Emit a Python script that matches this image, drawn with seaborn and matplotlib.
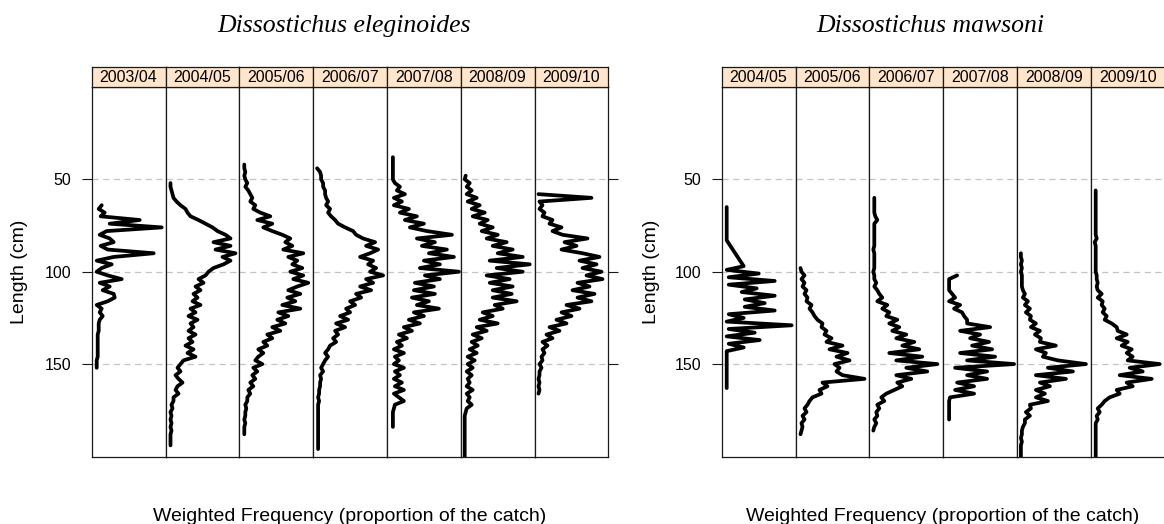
"""
Weighted length-frequency profiles of toothfish catches by season,
drawn as lattice-style strips (one column per season).
"""

import numpy as np
import pandas as pd
import matplotlib
matplotlib.use("Agg")
import matplotlib.pyplot as plt
import seaborn as sns

# ---------------------------------------------------------------------------
# Data: weighted frequency (per mille of the catch) in 2-cm length bins.
# None = bin not recorded (the line joins across it).
# ---------------------------------------------------------------------------
seasons_ele = ["2003/04", "2004/05", "2005/06", "2006/07", "2007/08", "2008/09", "2009/10"]
seasons_maw = ["2004/05", "2005/06", "2006/07", "2007/08", "2008/09", "2009/10"]

# first length bin (cm) of each season
start_ele = [64, 52, 42, 44, 38, 48, 58]
start_maw = [65, 98, 60, 102, 90, 56]

ele_0304 = [6, 3, 9, 5, 44, 14, 66, 11, 4, 14, 18, 5, 12, 58, 18, 1, 16, 6, 1, 12,
            26, 4, 14, 7, 18, 19, 12, 1, 6, 4, 7, 4, 3, 3, 3, 2, 2, 2, 2, 2,
            2, 2, 1, 1, 1]
ele_0405 = [1, 1, 2, 3, 4, 7, 11, 16, 18, 21, 29, 36, 43, 48, 56, 61, 44, 61, 46, 66,
            53, 61, 54, 44, 39, 36, 29, 34, 26, 31, 24, 28, 23, 31, 21, 26, 19, 28, 21, 24,
            19, 26, 19, 23, 16, 24, 18, 26, 14, 11, 8, 11, 6, 9, 13, 8, 6, 9, 4, 4,
            2, 3, 1, 2, 1, 2, 1, 2, 1, 1, 1, 1]
ele_0506 = [1, 1, 2, 1, 2, 4, 2, 5, 7, 9, 7, 12, 10, 17, 27, 14, 29, 20, 29, 39,
            47, 42, 49, 40, 60, 45, 54, 49, 59, 47, 60, 50, 65, 54, 45, 57, 44, 52, 39, 57,
            35, 45, 34, 42, 29, 37, 24, 29, 20, 24, 15, 20, 15, 12, 19, 10, 14, 9, 12, 7,
            10, 5, 7, 4, 4, 2, 3, 2, 2, 1, 2, 1, 1, 1]
ele_0607 = [0, 3, 4, 4, 6, 6, 8, 8, 9, 11, 9, 13, 11, 14, 18, 21, 28, 36, 39, 46,
            58, 49, 61, 53, 43, 56, 51, 59, 53, 66, 49, 56, 43, 54, 39, 44, 33, 38, 29, 33,
            23, 31, 19, 28, 18, 21, 16, 19, 13, 11, 8, 11, 8, 6, 4, 6, 3, 4, 3, 3,
            2, 2, 1, 2, 1, 1, 1, 1, 1, 1, 1, 1, 1, 1, 1, 1, 1]
ele_0708 = [2, 2, 2, 2, 2, 2, 2, 4, 9, 6, 14, 3, 11, 3, 18, 9, 26, 14, 33, 19,
            36, 61, 26, 44, 31, 56, 38, 63, 33, 49, 29, 68, 34, 49, 24, 43, 23, 44, 21, 38,
            26, 48, 23, 33, 18, 29, 13, 21, 8, 16, 6, 11, 3, 13, 4, 8, 3, 13, 4, 9,
            3, 11, 4, 13, 3, 8, 13, 4, 3, 2, 2, 2, 2, 2]
ele_0809 = [1, 0, 5, 2, 7, 2, 12, 3, 15, 7, 20, 8, 23, 15, 28, 17, 33, 22, 42, 28,
            48, 33, 58, 25, 65, 32, 58, 22, 45, 25, 48, 28, 47, 28, 52, 30, 38, 18, 28, 15,
            33, 12, 22, 8, 17, 7, 13, 5, 12, 3, 10, 3, 8, 2, 7, 3, 5, 2, 8, 2,
            5, 3, 7, 2, 1, 0, 0, 0, 0, 0, 0, 0, 0, 0, 0, 0, 0, 0]
ele_0910 = [0, 53, 1, 4, 1, 6, 4, 14, 11, 23, 14, 24, 49, 26, 38, 23, 44, 61, 41, 58,
            44, 63, 48, 64, 39, 51, 34, 56, 39, 53, 28, 41, 23, 33, 18, 28, 11, 21, 8, 14,
            4, 9, 4, 6, 3, 4, 1, 3, 1, 1, 0, 1, 0, 1, 0]

maw_0405 = [1, None, None, None, None, None, None, None, None, 1,
            None, None, None, None, None, None, 18, 1, 33, 3,
            49, 3, 31, 16, 49, 19, 39, 19, 49, 3, 18, 1, 66, 3,
            29, 1, 34, 3, 18, 1, None, None, None, None, None,
            None, None, None, None, 1]
maw_0506 = [1, 2, 5, 2, 5, 3, 7, 5, 8, 7, 12, 10, 13, 15, 18, 23, 22, 27, 25, 32,
            27, 43, 30, 48, 37, 50, 35, 40, 37, 43, 65, 23, 28, 20, 22, 13, 10, 8, 5, 7,
            3, 5, 2, 3, 2, 1]
maw_0607 = [1, 1, 1, 1, 1, 2, 4, 1, 1, 1, 1, 1, 1, 1, 0, 1, 1, 1, 1, 1,
            0, 1, 1, 3, 1, 4, 6, 9, 4, 14, 9, 16, 13, 24, 16, 26, 19, 33, 23, 41,
            29, 46, 16, 49, 23, 64, 33, 54, 23, 38, 24, 29, 21, 13, 8, 11, 4, 6, 3, 4,
            1, 3, 1, 0]
maw_0708 = [10, 2, 2, 2, 2, 5, 8, 2, 13, 7, 15, 17, 20, 20, 43, 13, 33, 23, 42, 25,
            45, 13, 48, 20, 67, 8, 40, 20, 40, 10, 27, 8, 27, 3, 2, 2, 2, 2, 2, 2]
maw_0809 = [0, 0, 1, 0, 1, 0, 1, 1, 1, 1, 2, 4, 2, 7, 4, 9, 5, 10, 9, 15,
            10, 19, 14, 20, 19, 35, 15, 25, 22, 37, 65, 27, 52, 15, 45, 19, 29, 15, 24, 15,
            27, 9, 10, 5, 9, 4, 4, 2, 1, 1, 0, 1, 0, 0, 0, 0, 0]
maw_0910 = [1, 1, 1, 1, 1, 1, 1, 1, 1, 1, 1, 1, 1, 2, 0, 1, 1, 1, 1, 1,
            1, 1, 1, 2, 2, 3, 2, 3, 7, 3, 8, 7, 10, 8, 12, 10, 17, 22, 23, 32,
            22, 33, 27, 37, 32, 38, 33, 65, 35, 48, 25, 57, 32, 38, 22, 25, 15, 10, 7, 3,
            5, 2, 3, 1, 1, 1, 1, 1, 1, 1, 1, 1, 1, 1]

series_ele = [ele_0304, ele_0405, ele_0506, ele_0607, ele_0708, ele_0809, ele_0910]
series_maw = [maw_0405, maw_0506, maw_0607, maw_0708, maw_0809, maw_0910]

# ---------------------------------------------------------------------------
# Layout (pixels of a 1164 x 524 canvas)
# ---------------------------------------------------------------------------
FIG_W, FIG_H = 1164, 524
STRIP_W = 73.8
PANEL_TOP, PANEL_BOTTOM = 87, 457
STRIP_TOP = 67
BOX_COLOR = "#1a1a1a"


def to_long(seasons, starts, series):
    """Stack the per-season lists into one long frame."""
    frames = []
    for season, start, freq in zip(seasons, starts, series):
        freq = np.asarray(freq, dtype=float) / 1000  # per mille -> proportion
        length = start + 2 * np.arange(len(freq))
        frames.append(pd.DataFrame({"season": season, "length": length, "freq": freq}))
    return pd.concat(frames, ignore_index=True).dropna()


def fx(px):
    return px / FIG_W


def fy(py):
    return 1 - py / FIG_H


def draw_panel(fig, df, seasons, x0, title, title_x, ylab_x):
    n = len(seasons)
    for i, season in enumerate(seasons):
        left = x0 + i * STRIP_W
        ax = fig.add_axes([fx(left), fy(PANEL_BOTTOM), fx(STRIP_W),
                           (PANEL_BOTTOM - PANEL_TOP) / FIG_H])
        for y in (50, 100, 150):
            ax.axhline(y, color="#c4c4c4", lw=0.9, ls=(0, (5, 3.5)), zorder=0)
        sns.lineplot(
            data=df[df["season"] == season], x="freq", y="length",
            orient="y", estimator=None, color="black", lw=2.7,
            solid_capstyle="round", solid_joinstyle="round", ax=ax,
        )
        ax.set_xlim(-0.004, 0.0698)
        ax.set_ylim(200.3, 0)
        ax.set_xticks([])
        ax.set_xlabel("")
        ax.set_ylabel("")
        ax.set_yticks([50, 100, 150])
        for sp in ax.spines.values():
            sp.set_color(BOX_COLOR)
            sp.set_linewidth(0.9)
        ax.tick_params(axis="y", direction="out", length=7.5, width=0.8,
                       color=BOX_COLOR, labelcolor="black", labelsize=11.5, pad=7,
                       left=(i == 0), labelleft=(i == 0),
                       right=(i == n - 1), labelright=False)

        # season strip on top
        sax = fig.add_axes([fx(left), fy(PANEL_TOP), fx(STRIP_W),
                            (PANEL_TOP - STRIP_TOP) / FIG_H])
        sax.set_facecolor("#ffe5cc")
        sax.set_xticks([])
        sax.set_yticks([])
        for sp in sax.spines.values():
            sp.set_color(BOX_COLOR)
            sp.set_linewidth(0.9)
        sax.text(0.5, 0.45, season, ha="center", va="center", color="black",
                 fontsize=11.5, transform=sax.transAxes)

    centre = x0 + n * STRIP_W / 2
    fig.text(fx(title_x), fy(32), title, ha="center", va="baseline", color="black",
             fontsize=18.5, style="italic", family="Liberation Serif")
    fig.text(fx(ylab_x), fy((PANEL_TOP + PANEL_BOTTOM) / 2), "Length (cm)",
             rotation=90, ha="center", va="center", fontsize=14, color="black")
    fig.text(fx(centre), fy(521), "Weighted Frequency (proportion of the catch)",
             ha="center", va="baseline", fontsize=14, color="black")


df_ele = to_long(seasons_ele, start_ele, series_ele)
df_maw = to_long(seasons_maw, start_maw, series_maw)

sns.set_style("white")
plt.rcParams["font.family"] = ["Liberation Sans", "DejaVu Sans"]
plt.rcParams["text.color"] = "black"

fig = plt.figure(figsize=(FIG_W / 100, FIG_H / 100), dpi=100)
draw_panel(fig, df_ele, seasons_ele, 91.7, "Dissostichus eleginoides", 344, 20)
draw_panel(fig, df_maw, seasons_maw, 721.7, "Dissostichus mawsoni", 930, 652)

fig.savefig("out.png", dpi=100)
